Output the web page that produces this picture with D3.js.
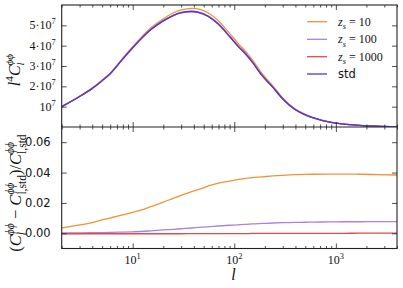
<!DOCTYPE html>
<html>
<head>
<meta charset="utf-8">
<script src="https://cdn.jsdelivr.net/npm/d3@7"></script>
<style>
  body { margin: 0; background: #fff; }
  svg { display: block; }
  text { fill: #111; }
  .serif { font-family: 'Liberation Serif', 'DejaVu Serif', serif; }
  .sans { font-family: 'DejaVu Sans', sans-serif; }
</style>
</head>
<body>
<svg id="chart" width="403" height="288"></svg>
<script>
// DATA
const ells = [2, 3, 4, 5, 6, 8, 10, 12, 15, 20, 25, 30, 38, 45, 55, 70, 90, 110, 130, 150,
  190, 240, 300, 400, 500, 600, 870, 1200, 1700, 2500, 4000];
// l^4 C_l (std), units of 1e7
const stdVals = [1.0, 1.5, 1.9, 2.28, 2.62, 3.35, 3.9, 4.32, 4.78, 5.22, 5.48, 5.62, 5.68, 5.63, 5.45,
  5.05, 4.45, 3.95, 3.58, 3.2, 2.5, 1.95, 1.38, 0.85, 0.6, 0.45, 0.24, 0.14, 0.08, 0.04, 0.015];
// relative difference to std
const diff10 = [0.0035, 0.0055, 0.007, 0.0088, 0.010, 0.0122, 0.0138, 0.0152, 0.0175, 0.0205, 0.023,
  0.025, 0.0275, 0.029, 0.031, 0.033, 0.0344, 0.0355, 0.0362, 0.0366, 0.0372, 0.0378, 0.0382,
  0.0386, 0.0388, 0.0389, 0.039, 0.039, 0.0389, 0.0387, 0.0384];
const diff100 = [0.0002, 0.0003, 0.0004, 0.0005, 0.0006, 0.0008, 0.001, 0.0012, 0.0016, 0.0022,
  0.0026, 0.003, 0.0035, 0.0039, 0.0043, 0.0048, 0.0053, 0.0056, 0.0059, 0.0062, 0.0065, 0.0068,
  0.007, 0.0072, 0.0073, 0.0074, 0.0075, 0.0076, 0.0076, 0.0077, 0.0077];
const diff1000 = [-0.0003, -0.0003, -0.0003, -0.0003, -0.0003, -0.0003, -0.0003, -0.0003, -0.0003,
  -0.0003, -0.0003, -0.0003, -0.0002, -0.0002, -0.0002, -0.0002, -0.0002, -0.0002, -0.0002, -0.0001,
  -0.0001, -0.0001, -0.0001, 0, 0, 0, 0, 0, 0.0001, 0.0001, 0.0001];
const zsLabels = ['10', '100', '1000'];
const spectraTicks = [1, 2, 3, 4, 5];
const diffTicks = [0, 0.02, 0.04, 0.06];
const xMajor = [10, 100, 1000];

// SETUP
const svg = d3.select('#chart');
const pLeft = 61.7, pRight = 397, pTop = 5, pMid = 127, pBottom = 248.5;

const x = d3.scaleLog().domain([2, 4000]).range([pLeft, pRight]);
const yTop = d3.scaleLinear().domain([0, 6]).range([pMid, pTop]);
const yBot = d3.scaleLinear().domain([-0.01, 0.07]).range([pBottom, pMid]);

const series = [
  { label: zsLabels[0], color: '#f0923a', diff: diff10 },
  { label: zsLabels[1], color: '#a882dc', diff: diff100 },
  { label: zsLabels[2], color: '#e44848', diff: diff1000 },
  { label: 'std', color: '#4a3cd6', diff: null }
];

const xMinor = [];
[1, 10, 100, 1000].forEach(d => {
  for (let k = 2; k <= 9; k++) {
    const v = d * k;
    if (v >= 2 && v <= 4000) xMinor.push(v);
  }
});

// math-ish text helper: parts = [[text, kind, italic]], kind: r, i, sup, sub, stack (sub under prev sup)
function mathText(sel, parts, size) {
  let shift = 0, lastW = 0, pending = 0;
  parts.forEach(([t, kind, ital]) => {
    let target = 0, fs = size, dx = pending;
    pending = 0;
    if (kind === 'sup') { target = -0.42 * size; fs = size * 0.7; }
    if (kind === 'sub' || kind === 'stack') { target = 0.28 * size; fs = size * 0.7; }
    if (kind === 'stack') dx = -lastW;
    const ts = sel.append('tspan')
      .attr('dy', target - shift)
      .attr('font-size', fs)
      .attr('font-style', (kind === 'i' || ital) ? 'italic' : 'normal')
      .text(t);
    if (dx) ts.attr('dx', dx);
    shift = target;
    const w = ts.node().getComputedTextLength();
    if (kind === 'stack' && w < lastW) pending = lastW - w;
    lastW = w;
  });
}

const g = svg.append('g');

// CLIP
svg.append('clipPath').attr('id', 'clipTop').append('rect')
  .attr('x', pLeft).attr('y', pTop).attr('width', pRight - pLeft).attr('height', pMid - pTop);
svg.append('clipPath').attr('id', 'clipBot').append('rect')
  .attr('x', pLeft).attr('y', pMid).attr('width', pRight - pLeft).attr('height', pBottom - pMid);

// LINES
const lineTop = d3.line().x(d => x(d[0])).y(d => yTop(d[1])).curve(d3.curveMonotoneX);
const lineBot = d3.line().x(d => x(d[0])).y(d => yBot(d[1])).curve(d3.curveMonotoneX);

series.forEach(s => {
  const topPts = ells.map((l, i) => [l, stdVals[i] * (1 + (s.diff ? s.diff[i] : 0))]);
  g.append('path').attr('clip-path', 'url(#clipTop)')
    .attr('d', lineTop(topPts)).attr('fill', 'none')
    .attr('stroke', s.color).attr('stroke-width', 1.3);
});
series.filter(s => s.diff).forEach(s => {
  const pts = ells.map((l, i) => [l, s.diff[i]]);
  g.append('path').attr('clip-path', 'url(#clipBot)')
    .attr('d', lineBot(pts)).attr('fill', 'none')
    .attr('stroke', s.color).attr('stroke-width', 1.3);
});

// AXES
function ax(axis, tx, ty, size, values) {
  const a = g.append('g').attr('transform', `translate(${tx},${ty})`)
    .call(axis.tickValues(values).tickSize(size).tickFormat(''));
  a.select('.domain').remove();
  a.selectAll('text').remove();
  a.selectAll('line').attr('stroke', '#222').attr('stroke-width', 0.8);
  return a;
}
// x ticks on all horizontal borders
[[d3.axisTop, pTop], [d3.axisBottom, pMid], [d3.axisTop, pMid], [d3.axisBottom, pBottom]].forEach(([f, yy]) => {
  ax(f(x), 0, yy, -5, xMajor);
  ax(f(x), 0, yy, -2.5, xMinor);
});
// y ticks
ax(d3.axisLeft(yTop), pLeft, 0, -5, spectraTicks);
ax(d3.axisRight(yTop), pRight, 0, -5, spectraTicks);
ax(d3.axisLeft(yBot), pLeft, 0, -5, diffTicks);
ax(d3.axisRight(yBot), pRight, 0, -5, diffTicks);

// FRAME
g.append('rect').attr('x', pLeft).attr('y', pTop).attr('width', pRight - pLeft).attr('height', pBottom - pTop)
  .attr('fill', 'none').attr('stroke', '#222').attr('stroke-width', 1.1);
g.append('line').attr('x1', pLeft).attr('x2', pRight).attr('y1', pMid).attr('y2', pMid)
  .attr('stroke', '#222').attr('stroke-width', 1.1);

// TICK LABELS
spectraTicks.forEach(v => {
  const t = g.append('text').attr('class', 'serif').attr('x', pLeft - 6).attr('y', yTop(v) + 4)
    .attr('text-anchor', 'end').attr('font-size', 12);
  mathText(t, v === 1 ? [['10', 'r'], ['7', 'sup']] : [[v + '\u00b710', 'r'], ['7', 'sup']], 12);
});
diffTicks.forEach(v => {
  g.append('text').attr('class', 'sans').attr('x', pLeft - 11).attr('y', yBot(v) + 4)
    .attr('text-anchor', 'end').attr('font-size', 11.5)
    .text(d3.format('.2f')(v));
});
xMajor.forEach((v, i) => {
  const t = g.append('text').attr('class', 'serif').attr('x', x(v)).attr('y', 264)
    .attr('text-anchor', 'middle').attr('font-size', 12);
  mathText(t, [['10', 'r'], [String(i + 1), 'sup']], 12);
});

// AXIS LABELS
g.append('text').attr('class', 'serif').attr('x', x(100) - 3).attr('y', 280)
  .attr('font-style', 'italic').attr('font-size', 16).text('l');

const yl1 = g.append('text').attr('class', 'serif').attr('transform', `translate(20,70) rotate(-90)`)
  .attr('text-anchor', 'middle').attr('font-size', 16);
mathText(yl1, [['l', 'i'], ['4', 'sup'], ['C', 'i'], ['\u03d5\u03d5', 'sup', true], ['l', 'stack', true]], 16);

const yl2 = g.append('text').attr('class', 'serif').attr('transform', `translate(21,193) rotate(-90)`)
  .attr('text-anchor', 'middle').attr('font-size', 16.5);
mathText(yl2, [['(', 'r'], ['C', 'i'], ['\u03d5\u03d5', 'sup', true], ['l', 'stack', true],
  [' \u2212 ', 'r'], ['C', 'i'], ['\u03d5\u03d5', 'sup', true], ['l,std', 'stack'],
  [')/', 'r'], ['C', 'i'], ['\u03d5\u03d5', 'sup', true], ['l,std', 'stack']], 16.5);

// LEGEND
const legRows = [21.7, 39.3, 56.7, 74];
series.forEach((s, i) => {
  g.append('line').attr('x1', 307).attr('x2', 327).attr('y1', legRows[i]).attr('y2', legRows[i])
    .attr('stroke', s.color).attr('stroke-width', 1.3);
  const t = g.append('text').attr('x', 338).attr('y', legRows[i] + 4)
    .attr('font-size', 12);
  if (s.diff) {
    t.attr('class', 'serif');
    mathText(t, [['z', 'i'], ['s', 'sub', true], [' = ' + s.label, 'r']], 12);
  } else {
    t.attr('class', 'sans').attr('font-size', 11.5).text('std');
  }
});
</script>
</body>
</html>
